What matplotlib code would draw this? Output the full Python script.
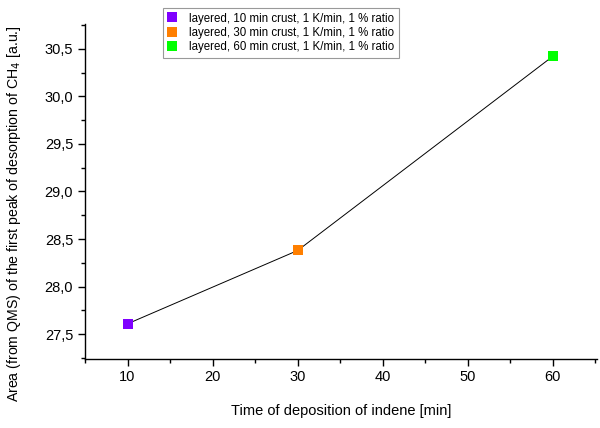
import numpy as np
import matplotlib
matplotlib.use("Agg")
import matplotlib.pyplot as plt
from matplotlib.ticker import MultipleLocator, FuncFormatter

plt.rcParams['font.family'] = ['Liberation Sans', 'DejaVu Sans']

# deposition time of indene and area of the first CH4 desorption peak
time_min = [10, 30, 60]
area = [27.61, 28.38, 30.42]
labels = ["layered, 10 min crust, 1 K/min, 1 % ratio",
          "layered, 30 min crust, 1 K/min, 1 % ratio",
          "layered, 60 min crust, 1 K/min, 1 % ratio"]
colors = ["#7f00ff", "#ff7f00", "#00ff00"]

fig = plt.figure(figsize=(6.0, 4.28), dpi=100)
ax = fig.add_axes([0.1417, 0.1612, 0.8533, 0.7828])

ax.plot(time_min, area, color='black', linewidth=0.7, zorder=2)
handles = []
for x, y, lab, c in zip(time_min, area, labels, colors):
    h, = ax.plot([x], [y], linestyle='none', marker='s', markersize=6.5,
                 color=c, markeredgewidth=0, label=lab, zorder=3)
    handles.append(h)

ax.set_xlim(5, 65.2)
ax.set_ylim(27.24, 30.76)
ax.xaxis.set_major_locator(MultipleLocator(10))
ax.xaxis.set_minor_locator(MultipleLocator(5))
ax.yaxis.set_major_locator(MultipleLocator(0.5))
ax.yaxis.set_minor_locator(MultipleLocator(0.25))
ax.yaxis.set_major_formatter(FuncFormatter(lambda v, p: f"{v:.1f}".replace('.', ',')))

for s in ['top', 'right']:
    ax.spines[s].set_visible(False)
for s in ['left', 'bottom']:
    ax.spines[s].set_linewidth(1.0)
ax.tick_params(which='major', direction='out', length=5, width=1.0, labelsize=10.5)
ax.tick_params(which='minor', direction='out', length=3, width=1.0)
ax.tick_params(axis='x', pad=3)

ax.set_xlabel("Time of deposition of indene [min]", fontsize=10.5, labelpad=14)
ax.set_ylabel("Area (from QMS) of the first peak of desorption of CH$_4$ [a.u.]",
              fontsize=10.2, labelpad=12)
ax.yaxis.set_label_coords(-0.122, 0.435)

leg = fig.legend(handles=handles, loc='upper left', bbox_to_anchor=(0.262, 0.995),
                 fontsize=8.3, frameon=True, fancybox=False, handlelength=0.8,
                 handletextpad=1.1, borderpad=0.4, labelspacing=0.2)
leg.get_frame().set_edgecolor('#808080')
leg.get_frame().set_linewidth(0.8)

fig.savefig("out.png", dpi=100)
